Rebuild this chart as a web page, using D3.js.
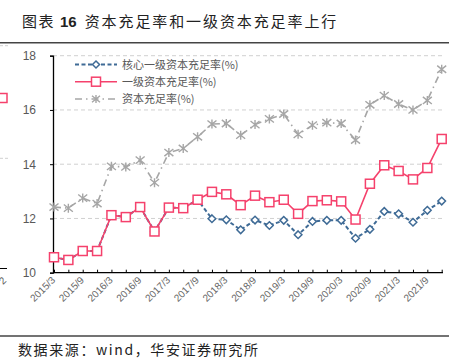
<!DOCTYPE html>
<html><head><meta charset="utf-8">
<script src="https://cdn.jsdelivr.net/npm/d3@7"></script>
<style>
html,body{margin:0;padding:0;background:#fff;}
svg{display:block;}
text{font-family:"Liberation Sans",Arial,sans-serif;}
.cjk{font-family:"Noto Sans CJK SC","Noto Sans",sans-serif;}
</style></head>
<body>
<script>
// ---- data ----
const categories = ["2015/3","2015/6","2015/9","2015/12","2016/3","2016/6","2016/9","2016/12",
  "2017/3","2017/6","2017/9","2017/12","2018/3","2018/6","2018/9","2018/12",
  "2019/3","2019/6","2019/9","2019/12","2020/3","2020/6","2020/9","2020/12",
  "2021/3","2021/6","2021/9","2021/12"];
const coreTier1 = [10.57,10.47,10.8,10.8,12.12,12.05,12.42,11.52,12.4,12.38,12.69,11.99,11.95,11.58,11.94,11.74,11.93,11.4,11.89,11.93,11.93,11.27,11.6,12.26,12.17,11.86,12.3,12.64];
const tier1 = [10.57,10.47,10.8,10.8,12.12,12.05,12.42,11.52,12.4,12.38,12.69,12.98,12.89,12.49,12.84,12.6,12.69,12.17,12.64,12.67,12.63,11.96,13.28,13.96,13.75,13.44,13.86,14.93];
const capital = [12.42,12.38,12.75,12.55,13.92,13.9,14.15,13.32,14.43,14.58,15.01,15.48,15.5,15.07,15.46,15.67,15.85,15.1,15.44,15.53,15.5,14.89,16.19,16.53,16.22,16.0,16.35,17.5];
const yTicks = [10,12,14,16,18];
const seriesNames = ["核心一级资本充足率(%)","一级资本充足率(%)","资本充足率(%)"];
const titleLabel = "图表";
const titleNum = "16";
const titleText = "资本充足率和一级资本充足率上行";
const sourceText = "数据来源：wind，华安证券研究所";

const W = 457, H = 358;
const svg = d3.select("body").append("svg").attr("width", W).attr("height", H);

const x = d3.scalePoint().domain(categories).range([54, 441.7]);
const y = d3.scaleLinear().domain([10, 18]).range([272.7, 55.7]);

const blue = "#3f6b96", pink = "#f5416c", gray = "#a6a6a6";

// ---- left remnants of neighbouring chart ----
svg.append("line").attr("x1",0).attr("x2",8).attr("y1",45.7).attr("y2",45.7)
  .attr("stroke","#d0d0d0").attr("stroke-dasharray","3,2");
svg.append("line").attr("x1",0).attr("x2",8).attr("y1",158.3).attr("y2",158.3)
  .attr("stroke","#d0d0d0").attr("stroke-dasharray","3,2");
svg.append("rect").attr("x",-2).attr("y",93.5).attr("width",9).attr("height",9)
  .attr("fill","#fff").attr("stroke",pink).attr("stroke-width",1.5);
svg.append("line").attr("x1",0).attr("x2",7).attr("y1",268.5).attr("y2",268.5).attr("stroke","#000");
svg.append("text").attr("transform","translate(7,281) rotate(-45)").attr("text-anchor","end")
  .attr("font-size",10).attr("fill","#595959").text("2");

// ---- title ----
const t = svg.append("text").attr("class","cjk").attr("x",22).attr("y",27)
  .attr("font-size",15).attr("fill","#222");
t.append("tspan").attr("letter-spacing",1.5).text(titleLabel);
t.append("tspan").attr("dx",5).attr("font-weight","bold").attr("font-family","Liberation Sans,Arial,sans-serif").text(titleNum);
t.append("tspan").attr("dx",8).attr("letter-spacing",1.9).text(titleText);
svg.append("line").attr("x1",0).attr("x2",449).attr("y1",42.7).attr("y2",42.7)
  .attr("stroke","#444").attr("stroke-width",1.5);

// ---- grid ----
svg.append("g").selectAll("line").data(yTicks.filter(d=>d>10)).join("line")
  .attr("x1",53).attr("x2",443).attr("y1",d=>y(d)).attr("y2",d=>y(d))
  .attr("stroke","#d0d0d0").attr("stroke-width",1).attr("stroke-dasharray","4,3");

// ---- y axis ----
const yAxis = svg.append("g").attr("transform","translate(53,0)")
  .call(d3.axisLeft(y).tickValues(yTicks).tickSize(3).tickPadding(14).tickFormat(d3.format("d")));
yAxis.select(".domain").attr("stroke","#000").attr("stroke-width",1.3);
yAxis.selectAll(".tick line").attr("stroke","#000");
yAxis.selectAll("text").attr("font-size",12).attr("fill","#595959")
  .attr("font-family","Liberation Sans,Arial,sans-serif");

// ---- x axis ----
const xAxis = svg.append("g").attr("transform",`translate(0,${y(10)})`)
  .call(d3.axisBottom(x).tickSize(-3).tickSizeOuter(0).tickFormat(""));
xAxis.select(".domain").attr("d",`M53,0H443`).attr("stroke","#000").attr("stroke-width",1.3);
xAxis.selectAll(".tick line").attr("stroke","#000");
svg.append("g").selectAll("text").data(categories.filter((d,i)=>i%2===0)).join("text")
  .attr("transform",d=>`translate(${x(d)+2},${y(10)+8}) rotate(-45)`)
  .attr("text-anchor","end").attr("font-size",10).attr("fill","#666").text(d=>d);

// ---- lines ----
const lineGen = vals => d3.line().x((d,i)=>x(categories[i])).y(d=>y(d))(vals);
svg.append("path").attr("d",lineGen(capital)).attr("fill","none").attr("stroke",gray)
  .attr("stroke-width",1.6).attr("stroke-dasharray","7,4,1.5,4");
svg.append("path").attr("d",lineGen(coreTier1)).attr("fill","none").attr("stroke",blue)
  .attr("stroke-width",2).attr("stroke-dasharray","4,2.5");
svg.append("path").attr("d",lineGen(tier1)).attr("fill","none").attr("stroke",pink)
  .attr("stroke-width",1.6);

function star(g, cx, cy, s){
  g.append("path").attr("d",`M${cx-s},${cy-s*0.8}L${cx+s},${cy+s*0.8}M${cx-s},${cy+s*0.8}L${cx+s},${cy-s*0.8}M${cx},${cy-s}L${cx},${cy+s}`)
   .attr("stroke",gray).attr("stroke-width",1.4).attr("fill","none");
}
function diamond(g, cx, cy, s){
  g.append("path").attr("d",`M${cx},${cy-s}L${cx+s},${cy}L${cx},${cy+s}L${cx-s},${cy}Z`)
   .attr("fill","#fff").attr("stroke",blue).attr("stroke-width",1.5);
}
function square(g, cx, cy, s){
  g.append("rect").attr("x",cx-s).attr("y",cy-s).attr("width",2*s).attr("height",2*s)
   .attr("fill","#fff").attr("stroke",pink).attr("stroke-width",1.5);
}
const mk = svg.append("g");
capital.forEach((v,i)=>star(mk, x(categories[i]), y(v), 4.5));
coreTier1.forEach((v,i)=>diamond(mk, x(categories[i]), y(v), 3.8));
tier1.forEach((v,i)=>square(mk, x(categories[i]), y(v), 4.5));

// ---- legend ----
const lg = svg.append("g");
const rows = [64.5, 81.7, 99];
lg.append("line").attr("x1",75).attr("x2",117).attr("y1",rows[0]).attr("y2",rows[0])
  .attr("stroke",blue).attr("stroke-width",2).attr("stroke-dasharray","4,2.5");
diamond(lg, 96, rows[0], 3.5);
lg.append("line").attr("x1",75).attr("x2",117).attr("y1",rows[1]).attr("y2",rows[1])
  .attr("stroke",pink).attr("stroke-width",1.6);
square(lg, 96, rows[1], 4.5);
lg.append("line").attr("x1",75).attr("x2",117).attr("y1",rows[2]).attr("y2",rows[2])
  .attr("stroke",gray).attr("stroke-width",1.6).attr("stroke-dasharray","7,4,1.5,4");
star(lg, 96, rows[2], 4);
lg.selectAll("text.l").data(seriesNames).join("text").attr("class","cjk l")
  .attr("x",122).attr("y",(d,i)=>rows[i]+4).attr("font-size",11).attr("fill","#595959").text(d=>d);

// ---- footer ----
svg.append("line").attr("x1",0).attr("x2",449).attr("y1",336).attr("y2",336)
  .attr("stroke","#444").attr("stroke-width",1.3);
svg.append("text").attr("class","cjk").attr("x",18).attr("y",355).attr("font-size",14)
  .attr("letter-spacing",1.6).attr("fill","#222").text(sourceText);
</script>
</body></html>
